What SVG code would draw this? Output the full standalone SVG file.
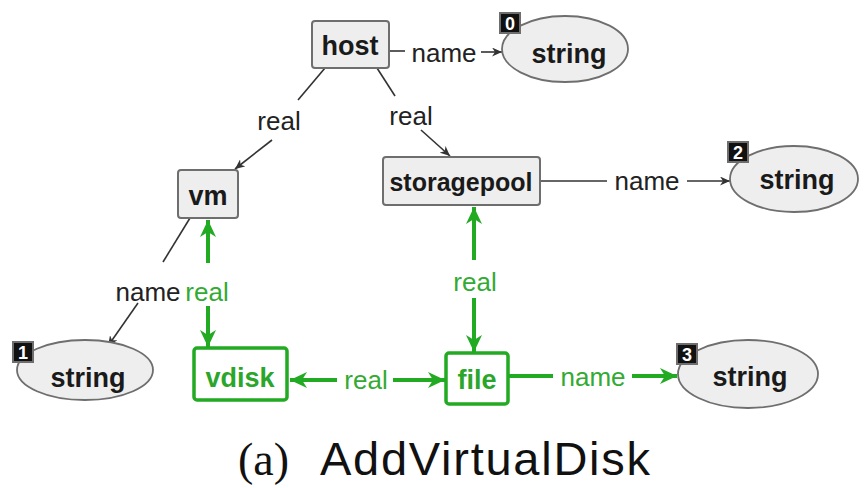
<svg xmlns="http://www.w3.org/2000/svg" width="864" height="488" viewBox="0 0 864 488">
  <style>
    .node rect { fill: #eeeeee; stroke: #6e6e6e; stroke-width: 2; }
    .node ellipse { fill: #eeeeee; stroke: #6e6e6e; stroke-width: 1.8; }
    .gnode rect { fill: #ffffff; stroke: #22aa22; stroke-width: 3.5; }
    .nl { font-family: "Liberation Sans", Arial, sans-serif; font-weight: bold; font-size: 27px; fill: #1a1a1a; text-anchor: middle; }
    .gl { font-family: "Liberation Sans", Arial, sans-serif; font-weight: bold; font-size: 27px; fill: #2aa62a; text-anchor: middle; }
    .el { font-family: "Liberation Sans", Arial, sans-serif; font-size: 26px; fill: #222222; text-anchor: middle; }
    .egl { font-family: "Liberation Sans", Arial, sans-serif; font-size: 26px; fill: #33aa33; text-anchor: middle; }
    .badge rect { fill: #111111; }
    .badge text { font-family: "Liberation Sans", Arial, sans-serif; font-weight: bold; font-size: 18px; fill: #ffffff; text-anchor: middle; }
    .bk { stroke: #333333; stroke-width: 1.6; fill: none; }
    .gr { stroke: #22aa22; stroke-width: 4; fill: none; }
    .cap { fill: #111111; }
  </style>
  <defs>
    <marker id="ab" markerUnits="userSpaceOnUse" markerWidth="11" markerHeight="9" refX="10" refY="4.5" orient="auto">
      <path d="M0,0 L10,4.5 L0,9 L3,4.5 z" fill="#333333"/>
    </marker>
    <marker id="ag" markerUnits="userSpaceOnUse" markerWidth="18" markerHeight="16" refX="17" refY="8" orient="auto">
      <path d="M0,0 L17,8 L0,16 L5,8 z" fill="#22aa22"/>
    </marker>
  </defs>
  <rect width="864" height="488" fill="#ffffff"/>

  <!-- connectors -->
  <g id="edges">
    <!-- host -name-> string 0 -->
    <line class="bk" x1="389" y1="51" x2="405" y2="51"/>
    <line class="bk" x1="481" y1="52" x2="502" y2="52" marker-end="url(#ab)"/>
    <text class="el" x="444" y="62">name</text>
    <!-- host -real-> vm -->
    <line class="bk" x1="325" y1="68" x2="298" y2="100"/>
    <line class="bk" x1="272" y1="140" x2="235" y2="169" marker-end="url(#ab)"/>
    <text class="el" x="279" y="130">real</text>
    <!-- host -real-> storagepool -->
    <line class="bk" x1="377" y1="68" x2="395" y2="96"/>
    <line class="bk" x1="421" y1="130" x2="450" y2="156" marker-end="url(#ab)"/>
    <text class="el" x="411" y="125">real</text>
    <!-- storagepool -name-> string 2 -->
    <line class="bk" x1="540" y1="181" x2="607" y2="181"/>
    <line class="bk" x1="687" y1="181" x2="730" y2="181" marker-end="url(#ab)"/>
    <text class="el" x="647" y="190">name</text>
    <!-- vm -name-> string 1 -->
    <line class="bk" x1="190" y1="218" x2="163" y2="262"/>
    <line class="bk" x1="138" y1="303" x2="108" y2="346" marker-end="url(#ab)"/>
    <text class="el" x="148" y="301">name</text>

    <!-- vm <-real-> vdisk -->
    <line class="gr" x1="208" y1="263" x2="208" y2="220" marker-end="url(#ag)"/>
    <line class="gr" x1="208" y1="303" x2="208" y2="347" marker-end="url(#ag)"/>
    <rect x="184" y="276" width="46" height="30" fill="#ffffff"/>
    <text class="egl" x="207" y="301">real</text>
    <!-- storagepool <-real-> file -->
    <line class="gr" x1="474" y1="260" x2="474" y2="207" marker-end="url(#ag)"/>
    <line class="gr" x1="474" y1="298" x2="474" y2="352" marker-end="url(#ag)"/>
    <text class="egl" x="475" y="291">real</text>
    <!-- vdisk <-real-> file -->
    <line class="gr" x1="337" y1="380" x2="290" y2="380" marker-end="url(#ag)"/>
    <line class="gr" x1="393" y1="380" x2="445" y2="380" marker-end="url(#ag)"/>
    <text class="egl" x="366" y="389">real</text>
    <!-- file -name-> string 3 -->
    <line class="gr" x1="508" y1="376" x2="553" y2="376"/>
    <line class="gr" x1="632" y1="376" x2="677" y2="376" marker-end="url(#ag)"/>
    <text class="egl" x="593" y="386">name</text>
  </g>

  <!-- nodes -->
  <g id="host" class="node">
    <rect x="312" y="21" width="77" height="47" rx="3"/>
    <text class="nl" x="350" y="55">host</text>
  </g>
  <g id="vm" class="node">
    <rect x="178" y="170" width="60" height="48" rx="3"/>
    <text class="nl" x="208" y="205">vm</text>
  </g>
  <g id="storagepool" class="node">
    <rect x="383" y="157" width="157" height="48" rx="3"/>
    <text class="nl" x="461" y="191" style="font-size:25px">storagepool</text>
  </g>
  <g id="vdisk" class="gnode">
    <rect x="194" y="348" width="93" height="52" rx="3"/>
    <text class="gl" x="240" y="387">vdisk</text>
  </g>
  <g id="file" class="gnode">
    <rect x="446" y="353" width="62" height="51" rx="3"/>
    <text class="gl" x="477" y="389">file</text>
  </g>

  <g id="string0" class="node">
    <ellipse cx="565" cy="49" rx="63" ry="33"/>
    <text class="nl" x="569" y="63">string</text>
    <g class="badge"><rect x="500" y="13" width="20" height="20"/><text x="510" y="30">0</text></g>
  </g>
  <g id="string1" class="node">
    <ellipse cx="85" cy="370" rx="68" ry="30"/>
    <text class="nl" x="88" y="387">string</text>
    <g class="badge"><rect x="13" y="342" width="20" height="20"/><text x="23" y="359">1</text></g>
  </g>
  <g id="string2" class="node">
    <ellipse cx="794" cy="179" rx="64" ry="33"/>
    <text class="nl" x="797" y="189">string</text>
    <g class="badge"><rect x="728" y="142" width="20" height="20"/><text x="738" y="159">2</text></g>
  </g>
  <g id="string3" class="node">
    <ellipse cx="748" cy="374" rx="70" ry="34"/>
    <text class="nl" x="750" y="386">string</text>
    <g class="badge"><rect x="677" y="344" width="20" height="20"/><text x="687" y="361">3</text></g>
  </g>

  <!-- caption -->
  <g id="caption">
    <text class="cap" x="238" y="475" font-family="'Liberation Serif', 'Times New Roman', serif" font-size="46">(a)</text>
    <text class="cap" x="320" y="475" font-family="'Liberation Sans', Arial, sans-serif" font-size="47" textLength="330">AddVirtualDisk</text>
  </g>
</svg>
